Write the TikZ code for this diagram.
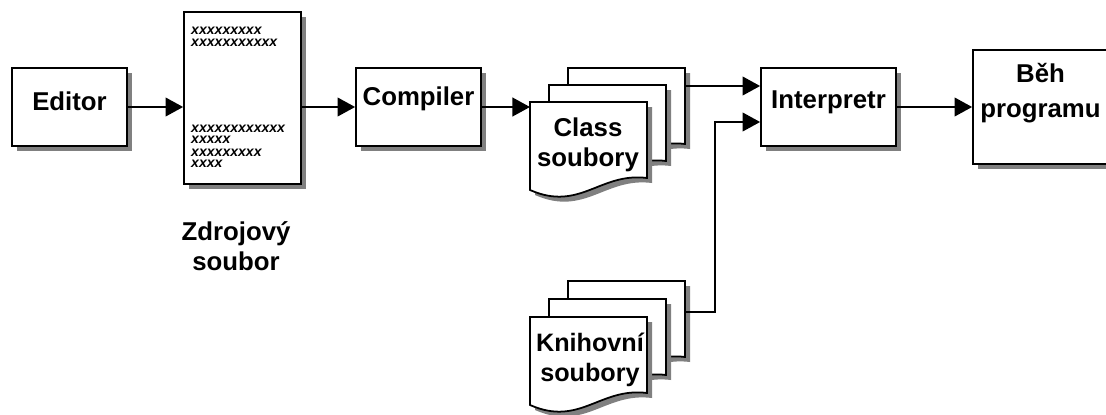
\documentclass[tikz,border=0pt]{standalone}
\usepackage{fontspec}
\setmainfont{Liberation Sans}
\usetikzlibrary{arrows.meta,shadows}
\definecolor{shd}{gray}{0.5}
\newcommand\lblfont{\fontsize{22}{25.6}\selectfont\bfseries}
\newcommand\behfont{\fontsize{22}{29.9}\selectfont\bfseries}
\newcommand\xsfont{\fontsize{12}{9.4}\selectfont\bfseries\itshape}
\tikzset{
  lw/.style={line width=1.5pt},
  box/.style={draw, lw, fill=white, inner sep=0pt,
    drop shadow={shadow xshift=0.16cm, shadow yshift=-0.16cm, fill=shd, opacity=1}},
  arr/.style={lw, -{Triangle[length=15pt,width=16pt]}},
  lbl/.style={font=\lblfont, align=center, inner sep=0pt},
  xlines/.style={font=\xsfont, align=left, anchor=north west, inner sep=0pt},
}
\newcommand\docpage[2]{%
  \begin{scope}[shift={(#1,#2)}]
    \fill[shd] (5,5) -- (122,5) -- (122,81) .. controls (75,75) and (55,115) .. (5,93) -- cycle;
    \draw[lw, fill=white] (0,0) -- (117,0) -- (117,76) .. controls (70,70) and (50,110) .. (0,88) -- cycle;
  \end{scope}}
\begin{document}
\begin{tikzpicture}[x=0.03cm, y=-0.03cm]
\useasboundingbox (0,0) rectangle (1106,414);
\clip (0,0) rectangle (1106,414);

% boxes
\node[box, minimum width=3.45cm, minimum height=2.34cm,
  label={[lbl, yshift=0.18cm]center:Editor}] (editor) at (69.5,107) {};
\node[box, minimum width=3.51cm, minimum height=5.16cm] (src) at (242.5,98) {};
\node[box, minimum width=3.75cm, minimum height=2.34cm,
  label={[lbl, yshift=0.255cm]center:Compiler}] (compiler) at (418.5,107) {};
\node[box, minimum width=4.05cm, minimum height=2.34cm,
  label={[lbl, yshift=0.135cm]center:Interpretr}] (interp) at (828.5,107) {};
\node[box, minimum width=4.05cm, minimum height=3.42cm,
  label={[lbl, font=\behfont, yshift=0.42cm]center:Běh\\programu}] (beh) at (1040.5,107) {};

% source text lines
\node[xlines] (xtop) at (191,26.5) {xxxxxxxxx\\[0.9pt]xxxxxxxxxxx};
\node[xlines] (xbot) at (191,124.5) {xxxxxxxxxxxx\\xxxxx\\[1.7pt]xxxxxxxxx\\xxxx};

\node[lbl] (srclbl) at (236,246) {Zdrojový\\soubor};

% class file stack
\docpage{568}{68}
\docpage{549}{85}
\docpage{530}{102}
\node[lbl] (clslbl) at (588,145) {Class\\soubory};

% library stack
\docpage{568}{281}
\docpage{549}{299}
\docpage{530}{317}
\node[lbl, font=\fontsize{21.5}{25.6}\selectfont\bfseries] (liblbl) at (590,360) {Knihovní\\soubory};

% connection points on the stacks
\coordinate (clsF) at (530,108);
\coordinate (clsB) at (685,86);
\coordinate (libB) at (686,312);
\coordinate (jn) at (715,122);

% connectors
\draw[arr] (editor.east) -- (editor.east -| src.west);
\draw[arr] (src.east |- compiler.east) -- (compiler.west);
\draw[arr] (compiler.east) -- (compiler.east -| clsF);
\draw[arr] (clsB) -- (clsB -| interp.west);
\draw[arr] (libB) -| (jn) -- (jn -| interp.west);
\draw[arr] (interp.east) -- (interp.east -| beh.west);
\end{tikzpicture}
\end{document}
